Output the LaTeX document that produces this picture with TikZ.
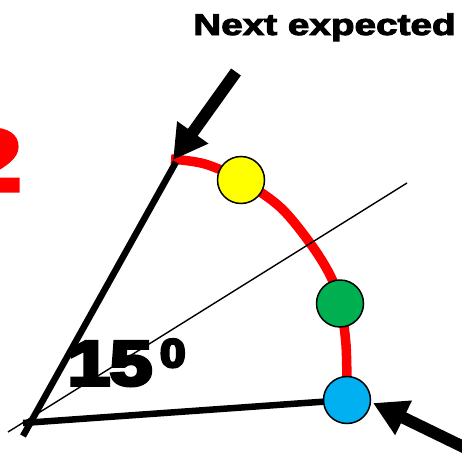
\documentclass[tikz,border=0pt]{standalone}
\usepackage{fontspec}
\setmainfont{Liberation Sans}
\newfontfamily\heavyA[FakeBold=3]{Liberation Sans Bold}
\newfontfamily\heavyB[FakeBold=6]{Liberation Sans Bold}
\usetikzlibrary{arrows.meta}
\definecolor{dotyellow}{HTML}{FFFF00}
\definecolor{dotgreen}{HTML}{00B050}
\definecolor{dotblue}{HTML}{00B0F0}
\definecolor{arcred}{HTML}{FF0000}
\begin{document}
\begin{tikzpicture}[x=1pt,y=-1pt,
  dot/.style={circle,draw=black,line width=1.5pt,minimum size=47pt,inner sep=0pt},
  bigarrow/.style={line width=12pt,-{Triangle[length=34pt,width=36pt]}},
  thickline/.style={line width=6.5pt},
  thinline/.style={line width=1.4pt},
  arcline/.style={arcred,line width=9.5pt},
  txt/.style={inner sep=0pt,outer sep=0pt}]
\useasboundingbox (0,0) rectangle (462,452);
\clip (0,0) rectangle (462,452);
% positions
\coordinate (O) at (23,436);
\coordinate (A) at (176,162);
\coordinate (B0) at (23,423);
\coordinate (T0) at (8,432);
\coordinate (T1) at (407,183);
\coordinate (yc) at (241,180);
\coordinate (gc) at (340,303.5);
\coordinate (bc) at (347,400);
% red arc
\draw[arcline] plot[smooth,tension=0.55] coordinates {(171,159) (205,164) (yc) (280,207) (310,243) (330,275) (gc) (346,345) (bc)};
% lines
\draw[thinline] (T0) -- (T1);
\draw[thickline] (O) -- (A);
\draw[thickline] (B0) -- (bc);
% dots
\node[dot,fill=dotyellow] (y) at (yc) {};
\node[dot,fill=dotgreen] (g) at (gc) {};
\node[dot,fill=dotblue] (b) at (bc) {};
% arrows
\coordinate (a1s) at (236,72);
\coordinate (a1e) at (173,160);
\draw[bigarrow] (a1s) -- (a1e);
\coordinate (a2s) at (480,455);
\coordinate (a2e) at (373,403);
\draw[bigarrow] (a2s) -- (a2e);
% texts
\node[txt,anchor=base,font=\heavyA\fontsize{30}{30}\selectfont] (ne) at (324.5,35) {\scalebox{1.29}[1]{Next expected}};
\node[txt,anchor=base west,text=arcred,font=\heavyB\fontsize{86}{86}\selectfont] (two) at (-39,190) {\scalebox{1.25}[1]{2}};
\node[txt,anchor=base west,font=\heavyB\fontsize{63}{63}\selectfont] (ff) at (68,385) {\scalebox{1.2}[1]{15}};
\node[txt,anchor=base west,font=\heavyB\fontsize{40}{40}\selectfont] (sup) at (160,367) {\scalebox{1.15}[1]{0}};
\end{tikzpicture}
\end{document}
